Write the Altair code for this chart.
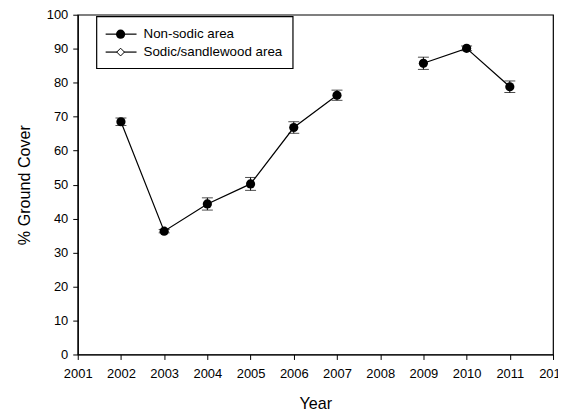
import altair as alt
import pandas as pd

years = [2002, 2003, 2004, 2005, 2006, 2007, 2009, 2010, 2011]
cover = [68.5, 36.3, 44.3, 50.2, 66.8, 76.3, 85.7, 90.1, 78.8]
err = [1.1, 0.5, 1.8, 1.9, 1.7, 1.5, 1.8, 0.7, 1.7]
segment = [1, 1, 1, 1, 1, 1, 2, 2, 2]
series_names = ["Non-sodic area", "Sodic/sandlewood area"]
x_ticks = list(range(2001, 2013))
y_ticks = list(range(0, 101, 10))

df = pd.DataFrame({"year": years, "cover": cover, "err": err, "seg": segment})
df["lo"] = df["cover"] - df["err"]
df["hi"] = df["cover"] + df["err"]

FONT = "Liberation Sans"
W, H = 477, 341

xs = alt.Scale(domain=[2001, 2012], nice=False, zero=False)
ys = alt.Scale(domain=[0, 100], nice=False)
x_axis = alt.Axis(values=x_ticks, format="d", title="Year", titlePadding=15, labelPadding=8,
                  labelFlush=False)
y_axis = alt.Axis(values=y_ticks, title="% Ground Cover", titlePadding=14, labelPadding=5,
                  labelFlush=False)

line = alt.Chart(df).mark_line(color="black", strokeWidth=1.2).encode(
    x=alt.X("year:Q", scale=xs, axis=x_axis),
    y=alt.Y("cover:Q", scale=ys, axis=y_axis), detail="seg:N")

bars = alt.Chart(df).mark_errorbar(ticks=alt.MarkConfig(size=11, strokeWidth=1.5), color="black").encode(
    x=alt.X("year:Q", scale=xs, axis=x_axis),
    y=alt.Y("lo:Q", scale=ys, axis=y_axis), y2="hi:Q")

pts = alt.Chart(df).mark_point(filled=True, color="black", size=85, opacity=1).encode(
    x=alt.X("year:Q", scale=xs, axis=x_axis),
    y=alt.Y("cover:Q", scale=ys, axis=y_axis))

# legend
leg = pd.DataFrame({"name": series_names, "row": [0, 1]})
box = alt.Chart(pd.DataFrame({"a": [0]})).mark_rect(fill="white", stroke="black", strokeWidth=1.2).encode(
    x=alt.value(19), x2=alt.value(216), y=alt.value(2), y2=alt.value(54))
base_leg = alt.Chart(leg).transform_calculate(py="19.5 + datum.row * 18")
leg_line = base_leg.mark_rule(color="black", strokeWidth=1.2).encode(
    x=alt.value(28), x2=alt.value(59), y=alt.Y("py:Q", scale=None))
leg_pt1 = alt.Chart(leg.iloc[[0]]).transform_calculate(py="19.5").mark_point(
    shape="circle", filled=True, color="black", size=85, opacity=1).encode(
    x=alt.value(43), y=alt.Y("py:Q", scale=None))
leg_pt2 = alt.Chart(leg.iloc[[1]]).transform_calculate(py="37.5").mark_point(
    shape="diamond", filled=True, fill="white", stroke="black", strokeWidth=1, size=60, opacity=1).encode(
    x=alt.value(43), y=alt.Y("py:Q", scale=None))
leg_txt = base_leg.mark_text(align="left", baseline="middle", font=FONT, fontSize=13.4, color="black").encode(
    x=alt.value(66), y=alt.Y("py:Q", scale=None), text="name:N")

chart = alt.layer(line, bars, pts, box, leg_line, leg_pt1, leg_pt2, leg_txt).properties(
    width=W, height=H, autosize=alt.AutoSizeParams(type="none"),
    padding={"left": 70, "top": 6, "right": 5, "bottom": 57},
    background="white"
).configure_view(stroke="black", strokeWidth=1.2).configure_axis(
    domainColor="black", domainWidth=1.2, tickColor="black", tickSize=5, grid=False,
    labelFont=FONT, labelFontSize=13, labelColor="black",
    titleFont=FONT, titleFontSize=16.2, titleFontWeight="normal", titleColor="black"
)

chart.save("out.html", embed_options={"renderer": "svg", "actions": False})
